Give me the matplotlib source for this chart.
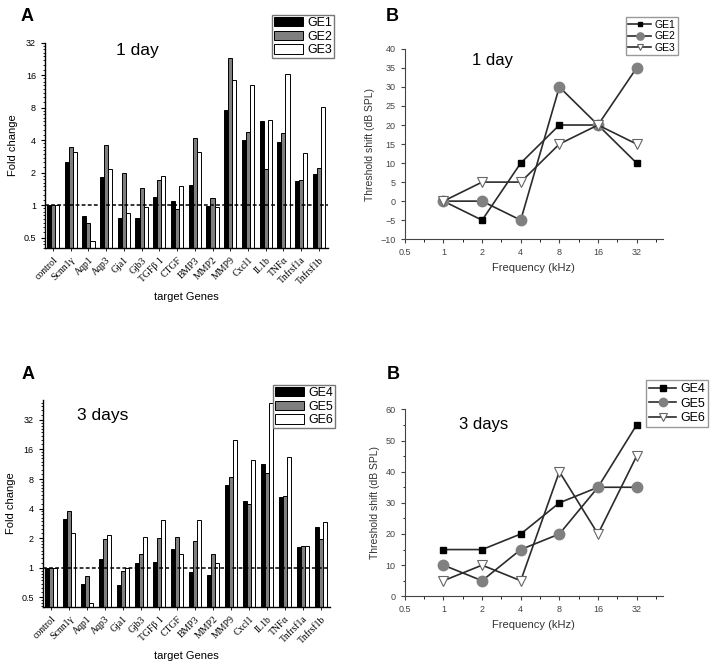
import numpy as np
import matplotlib
matplotlib.use("Agg")
import matplotlib.pyplot as plt
from matplotlib import ticker

plt.rcParams["font.family"] = ["Liberation Sans", "DejaVu Sans"]

# ---- data ----
genes = ["control", "Scnn1γ", "Aqp1", "Aqp3", "Gja1", "Gjb3", "TGFβ 1", "CTGF",
         "BMP3", "MMP2", "MMP9", "Cxcl1", "IL1b", "TNFα", "Tnfrsf1a", "Tnfrsf1b"]

ge1 = [1, 2.54, 0.80, 1.82, 0.76, 0.77, 1.19, 1.10, 1.55, 0.99, 7.6, 4.0, 6.0, 3.9, 1.67, 1.94]
ge2 = [1, 3.47, 0.69, 3.64, 1.98, 1.44, 1.73, 0.93, 4.17, 1.17, 23.4, 4.8, 2.18, 4.64, 1.73, 2.21]
ge3 = [1, 3.11, 0.47, 2.18, 0.85, 0.97, 1.88, 1.52, 3.14, 0.97, 14.6, 13.0, 6.2, 16.5, 3.05, 8.2]

ge4 = [1, 3.17, 0.69, 1.23, 0.67, 1.13, 1.15, 1.55, 0.91, 0.85, 6.9, 4.77, 11.5, 5.27, 1.62, 2.63]
ge5 = [1, 3.77, 0.83, 1.97, 0.93, 1.37, 2.00, 2.07, 1.87, 1.37, 8.4, 4.51, 9.2, 5.44, 1.68, 1.97]
ge6 = [1, 2.29, 0.44, 2.15, 1.00, 2.05, 3.08, 1.37, 3.10, 1.12, 19.9, 12.6, 48.0, 13.3, 1.66, 2.93]

freq = [1, 2, 4, 8, 16, 32]
shift_ge1 = [0, -5, 10, 20, 20, 10]
shift_ge2 = [0, 0, -5, 30, 20, 35]
shift_ge3 = [0, 5, 5, 15, 20, 15]
shift_ge4 = [15, 15, 20, 30, 35, 55]
shift_ge5 = [10, 5, 15, 20, 35, 35]
shift_ge6 = [5, 10, 5, 40, 20, 45]

fig = plt.figure(figsize=(7.14, 6.70), dpi=100)


def bar_panel(rect, series, ylim, yticks, label, label_xy):
    ax = fig.add_axes(rect)
    x = np.arange(len(genes))
    w = 0.23
    colors = ["black", "#7f7f7f", "white"]
    handles = []
    for i, (vals, c) in enumerate(zip(series, colors)):
        h = ax.bar(x + (i - 1) * w, np.array(vals) - ylim[0], w, bottom=ylim[0],
                   color=c, edgecolor="black", linewidth=0.7)
        handles.append(h)
    ax.set_yscale("log", base=2)
    ax.set_ylim(*ylim)
    ax.set_xlim(-0.45, len(genes) - 0.5)
    ax.axhline(1, color="black", ls=(0, (2.5, 1.5)), lw=1.1)
    ax.yaxis.set_major_locator(ticker.FixedLocator(yticks))
    ax.yaxis.set_major_formatter(ticker.FixedFormatter([("%g" % t) for t in yticks]))
    ax.yaxis.set_minor_locator(ticker.LogLocator(base=2, subs=np.arange(1, 2, 0.125), numticks=50))
    ax.yaxis.set_minor_formatter(ticker.NullFormatter())
    ax.set_xticks(x)
    ax.set_xticklabels(genes, rotation=45, ha="right", rotation_mode="anchor",
                       family=["Liberation Serif", "DejaVu Serif"], fontsize=7)
    ax.tick_params(axis="y", labelsize=6.5, length=3, width=0.8)
    ax.tick_params(axis="y", which="minor", length=1.5, width=0.6)
    ax.tick_params(axis="x", length=2, width=0.6)
    for s in ["top", "right"]:
        ax.spines[s].set_visible(False)
    for s in ["left", "bottom"]:
        ax.spines[s].set_linewidth(1.0)
    ax.set_ylabel("Fold change", fontsize=8)
    ax.set_xlabel("target Genes", fontsize=8, labelpad=4)
    ax.text(label_xy[0], label_xy[1], label, transform=ax.transAxes, fontsize=12.5, va="top")
    return ax, handles


def line_panel(rect, ys, names, ylim, ymajor, label, label_xy):
    ax = fig.add_axes(rect)
    styles = [dict(marker="s", ms=5, mfc="black", mec="black"),
              dict(marker="o", ms=7.5, mfc="#808080", mec="#808080"),
              dict(marker="v", ms=6.5, mfc="white", mec="#666666", mew=0.8)]
    for y, n, st in zip(ys, names, styles):
        ax.plot(freq, y, color="#2b2b2b", lw=1.2, label=n, **st)
    ax.set_xscale("log", base=2)
    ax.set_xlim(0.5, 51)
    ax.set_ylim(*ylim)
    xt = [0.5, 1, 2, 4, 8, 16, 32]
    ax.xaxis.set_major_locator(ticker.FixedLocator(xt))
    ax.xaxis.set_major_formatter(ticker.FixedFormatter([("%g" % t) for t in xt]))
    ax.xaxis.set_minor_locator(ticker.LogLocator(base=2, subs=[1.414], numticks=50))
    ax.xaxis.set_minor_formatter(ticker.NullFormatter())
    ax.yaxis.set_major_locator(ticker.MultipleLocator(ymajor))
    ax.yaxis.set_minor_locator(ticker.MultipleLocator(ymajor / 2))
    ax.tick_params(labelsize=6.5, length=3, width=0.8, colors="#444444")
    ax.tick_params(which="minor", length=1.8, width=0.6)
    for s in ["top", "right"]:
        ax.spines[s].set_visible(False)
    for s in ["left", "bottom"]:
        ax.spines[s].set_color("#444444")
    ax.set_ylabel("Threshold shift (dB SPL)", fontsize=7.5, color="#333333")
    ax.set_xlabel("Frequency (kHz)", fontsize=8, color="#333333")
    ax.text(label_xy[0], label_xy[1], label, transform=ax.transAxes, fontsize=12, va="top")
    return ax


bar_leg = dict(fontsize=9, handlelength=2.3, handleheight=0.8, handletextpad=0.35,
               labelspacing=0.12, borderpad=0.15, fancybox=False, edgecolor="#777777",
               framealpha=1, borderaxespad=0)

# ---- 1 day bars ----
ax1, h1 = bar_panel([0.063, 0.630, 0.396, 0.306], [ge1, ge2, ge3],
                    (0.404, 32), [0.5, 1, 2, 4, 8, 16, 32], "1 day", (0.25, 1.0))
fig.legend(h1, ["GE1", "GE2", "GE3"], loc="upper right",
           bbox_to_anchor=(334 / 714, 1 - 15 / 670), **bar_leg)

# ---- 3 days bars ----
ax3, h3 = bar_panel([0.060, 0.094, 0.402, 0.309], [ge4, ge5, ge6],
                    (0.40, 51), [0.5, 1, 2, 4, 8, 16, 32], "3 days", (0.12, 0.96))
fig.legend(h3, ["GE4", "GE5", "GE6"], loc="upper right",
           bbox_to_anchor=(335 / 714, 1 - 385 / 670), **bar_leg)

# ---- 1 day lines ----
ax2 = line_panel([0.567, 0.643, 0.361, 0.284], [shift_ge1, shift_ge2, shift_ge3],
                 ["GE1", "GE2", "GE3"], (-10, 40), 5, "1 day", (0.26, 0.98))
ax2.yaxis.set_minor_locator(ticker.NullLocator())
ax2.legend(loc="upper right", bbox_to_anchor=(678 / 714, 1 - 17 / 670), bbox_transform=fig.transFigure,
           fontsize=7.5, handlelength=2.2, handletextpad=0.3, labelspacing=0.15, borderpad=0.25,
           fancybox=False, edgecolor="#999999", framealpha=1, markerscale=0.7, borderaxespad=0)

# ---- 3 days lines ----
ax4 = line_panel([0.567, 0.110, 0.361, 0.279], [shift_ge4, shift_ge5, shift_ge6],
                 ["GE4", "GE5", "GE6"], (0, 60), 10, "3 days", (0.21, 0.96))
ax4.legend(loc="upper right", bbox_to_anchor=(708 / 714, 1 - 380 / 670), bbox_transform=fig.transFigure,
           fontsize=9, handlelength=2.2, handletextpad=0.3, labelspacing=0.2, borderpad=0.25,
           fancybox=False, edgecolor="#999999", framealpha=1, markerscale=0.8, borderaxespad=0)

# panel letters
for (px, py, t) in [(21, 8, "A"), (386, 8, "B"), (22, 366, "A"), (387, 366, "B")]:
    fig.text(px / 714, 1 - py / 670, t, fontsize=13, fontweight="bold", va="top")

fig.savefig("out.png", dpi=100, facecolor="white")
